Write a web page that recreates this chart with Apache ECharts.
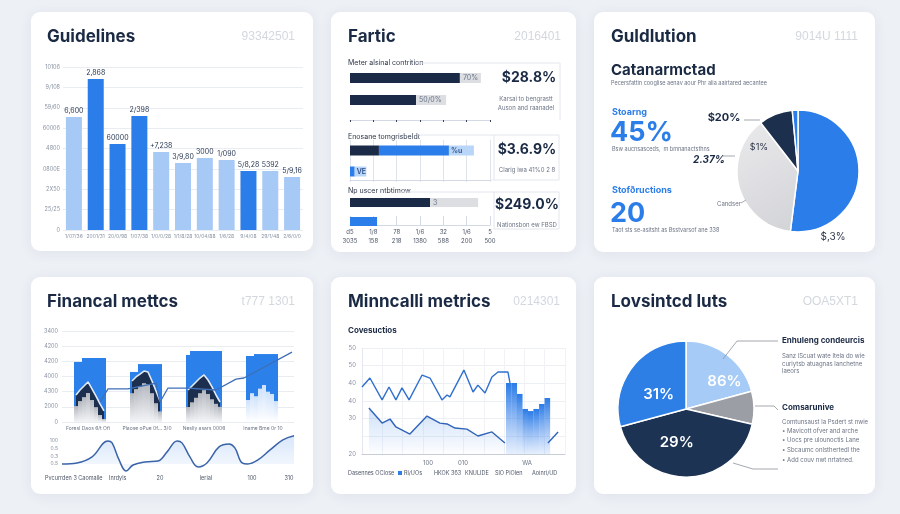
<!DOCTYPE html>
<html><head><meta charset="utf-8">
<script src="https://cdn.jsdelivr.net/npm/echarts@6/dist/echarts.min.js"></script>
<style>html,body{margin:0;padding:0;background:#edf0f5}#c{width:900px;height:514px}</style>
</head><body><div id="c"></div>
<script>
// ---------------- DATA ----------------
// Panel 1: Guidelines
const guideCats = ["1/07/36","2001/31","20/0/98","1/07/38","1/0/0/28","1/1/8/28","10/04/88","1/6/28","9/4/08","29/1/48","2/6/0/0"];
const guideValues = [5550, 7410, 4220, 5600, 3830, 3290, 3530, 3440, 2900, 2900, 2600];
const guideValueLabels = ["6,600","2,868","60000","2/398","+7,238","3/9,80","3000","1/090","5/8,28","5392","5/9,16"];
const guideYTicks = ["0","25/25","2X50","0800E","4800","60006","59/60","9/108","10106"];
const guideDarkIdx = [1, 2, 3, 8];

// Panel 2: Fartic (three sections of horizontal bars)
const farticTickTop = ["d5","1/8","78","1/6","32","1/6","5"];
const farticTickBottom = ["3035","158","218","1380","588","200","500"];
const s1Dark = [47.1, 28.3], s1Grey = [9, 12.9], s1Labels = ["70%", "50/0%"];
const s2Dark = [12.4, '-'], s2Blue = [30, 2], s2Light = [10.7, 5], s2Labels = ["%u", "VE"];
const s3Dark = [34.3, '-'], s3Blue = ['-', 11.6], s3Grey = [20.6, '-'], s3Labels = ["3", ""];

// Panel 3: Guldlution pie
const guldValues = [52, 37.5, 9, 1.5];

// Panel 4: Financal mettcs
const FIN_N = 58;
const finYTicks = ["0","2000","4300","4000","4200","4200","3400"];
const finStarts = [3, 17, 31, 46];
const finBlue = [[3.96,3.96,4.22,4.22,4.22,4.22,4.22,4.22],[3.30,3.30,3.82,3.82,3.82,3.82,3.82,3.82],[4.42,4.68,4.68,4.68,4.68,4.68,4.68,4.68,4.68],[4.35,4.35,4.48,4.48,4.48,4.48,4.48,4.48]];
const finNavy = [[1.78,2.11,2.37,2.64,2.18,1.71,1.19,0.73],[2.70,2.97,3.16,3.36,3.30,2.70,2.04,1.38],[2.11,2.37,2.64,2.90,3.10,2.77,2.31,1.78,1.32],null];
const finGrey = [[1.05,1.38,1.64,1.91,1.45,0.98,0.46,0.2],[1.9,2.17,2.36,2.56,2.5,1.9,1.24,0.7],[0.99,1.3,1.6,1.9,2.1,1.85,1.5,1.2,1.0],null];
const finLight = [null,null,null,[1.45,1.9,1.7,2.2,2.44,2.0,1.85,1.38]];
const finLineIdx = [9, 11, 16, 23, 24, 26, 31, 38, 43, 45, 57];
const finLineVal = [1.32, 2.18, 2.18, 2.57, 1.32, 2.24, 2.24, 2.11, 2.83, 2.90, 4.61];
const finMiniTicks = ["0.5","0.3","0.5","100"];
const finMiniX = [0,6.4,12.9,19.7,21.5,24.5,27.5,30.5,35.6,41.2,45.1,49.4,51.5,54.9,58.4,62.2,67.4,71.7,74.2,77.3,79.8,84.1,89.3,94.8,99.6];
const finMiniY = [0,0.1,0.69,2.25,2.06,0.39,-0.69,-0.1,0.2,0.29,1.18,2.25,2.06,0.69,-0.29,0.1,1.67,1.96,1.57,0.1,0,0.39,1.37,2.35,2.75];

// Panel 5: Minncalli metrics
const p5YTicks = ["20","","30","40","40","50","50"];
const p5UpperX = [0,3.9,9.9,13.3,16.7,19.7,23.2,29.6,33.5,39.4,41.9,43.3,50.2,54.7,57.1,60.6,64.0,67.0,71.9,72.9];
const p5UpperY = [37.9,43.0,30.6,37.9,30.6,37.4,30.6,44.7,43.0,30.6,33.4,32.3,47.5,35.1,39.0,34.5,43.6,46.4,46.4,40.2];
const p5LowerX = [3.4,9.9,13.8,16.7,23.6,32.0,38.4,41.9,45.8,51.7,57.1,64.0,70.4];
const p5LowerY = [26.0,17.5,19.8,15.3,11.3,21.5,17.5,17.0,14.7,14.1,10.2,12.5,6.2];
const p5TailX = [91.6, 96.6], p5TailY = [6.2, 12.5];
const p5BarX = [72.3,75.0,77.7,80.4,83.1,85.8,88.6,91.3];
const p5BarY = [40.2,40.2,34.0,25.5,24.3,25.5,28.3,31.7];

// Panel 6: Lovsintcd luts pie
const lovValues = [20.8, 7.8, 42.2, 29.2];
const lovLabels = ["86%", "", "29%", "31%"];

// ---------------- HELPERS ----------------
const NAVY = '#1b2b47', BLUE = '#2b7de9', LIGHT = '#a6c9f5', TXT = '#1b2a44', SUB = '#6b7384';
const zip = (a, b) => a.map((v, i) => [v, b[i]]);
function spread(groups) {
  const a = new Array(FIN_N).fill('-');
  groups.forEach((g, k) => { if (g) g.forEach((v, j) => { a[finStarts[k] + j] = v; }); });
  return a;
}
function T(x, y, s, size, color, weight, align, extra) {
  const fam = (extra && extra.fam) || 'Inter, Roboto, sans-serif';
  const st = (extra && extra.italic) ? 'italic ' : '';
  return { type: 'text', x: x, y: y, z: 100, silent: true,
    style: { text: s, fill: color, font: st + (weight || 400) + ' ' + size + 'px ' + fam,
      textAlign: align || 'left', textVerticalAlign: 'middle', align: align || 'left', verticalAlign: 'middle' } };
}
function L(points, color, w) {
  return { type: 'polyline', z: 100, silent: true, shape: { points: points }, style: { stroke: color || '#e2e6ed', lineWidth: w || 1, fill: null } };
}
function card(x, y, w, h) {
  return { type: 'rect', z: -10, silent: true, shape: { x: x, y: y, width: w, height: h, r: 9 },
    style: { fill: '#ffffff', shadowBlur: 14, shadowColor: 'rgba(40,60,100,0.07)', shadowOffsetY: 2 } };
}
const faint = (x, y, s) => T(x, y, s, 12, '#d3d8df', 300, 'right', { fam: 'Liberation Sans, sans-serif' });
const small = (x, y, s, align, size) => T(x, y, s, size || 6, SUB, 400, align);
const cap = (x, y, s, align) => T(x, y, s, 5.5, '#4d5566', 400, align);

const grad = (c1, c2) => ({ type: 'linear', x: 0, y: 0, x2: 0, y2: 1, colorStops: [{ offset: 0, color: c1 }, { offset: 1, color: c2 }] });

// ---------------- GRAPHICS (cards + text) ----------------
const graphics = [
  card(31, 12, 282, 239), card(331, 12, 245, 240), card(594, 12, 281, 240),
  card(31, 277, 282, 217), card(331, 277, 245, 217), card(594, 277, 281, 217),
  // titles
  T(47, 37, 'Guidelines', 17, TXT, 700), faint(295, 37, '93342501'),
  T(348, 37, 'Fartic', 17, TXT, 700), faint(561, 37, '2016401'),
  T(611, 37, 'Guldlution', 17, TXT, 700), faint(858, 37, '9014U 1111'),
  T(47, 302, 'Financal mettcs', 17, TXT, 700), faint(295, 302, 't777 1301'),
  T(348, 302, 'Minncalli metrics', 17, TXT, 700), faint(560, 302, '0214301'),
  T(611, 302, 'Lovsintcd luts', 17, TXT, 700), faint(858, 302, 'OOA5XT1'),
  // Panel 2 texts & boxes
  T(348, 63, 'Meter alsinal contrition', 7, '#2d3648'), L([[415, 63], [560, 63]]), L([[560, 63], [560, 120]]),
  T(529, 78, '$28.8%', 14, TXT, 700, 'center'),
  small(526, 99, 'Karsai to bengrastt', 'center'), small(526, 108, 'Auson and raanadel', 'center'),
  T(348, 137, 'Enosane tomgrisbeldt', 7, '#2d3648'), L([[417, 135], [559, 135]]), L([[494, 135], [494, 180]]), L([[559, 135], [559, 180]]), L([[490, 180], [559, 180]]),
  T(527, 150, '$3.6.9%', 14, TXT, 700, 'center'), small(527, 170, 'Clarig iwa 41%0 2 8', 'center'),
  T(348, 191, 'Np uscer ntbtimow', 7, '#2d3648'), L([[400, 192], [559, 192]]), L([[494, 192], [494, 229]]), L([[559, 192], [559, 229]]), L([[494, 229], [559, 229]]),
  T(527, 205, '$249.0%', 14, TXT, 700, 'center'), small(527, 225, 'Nationsbon ew FBSD', 'center'),
  // Panel 3 texts
  T(611, 70, 'Catanarmctad', 15, TXT, 700), small(611, 83, 'Pecersfattin cooglise aenav aour Phr alia aairtared aecantee', 'left', 5.5),
  T(612, 112, 'Stoarng', 9, BLUE, 700), T(610, 133, '45%', 27, BLUE, 700), small(612, 149, 'Bsw aucnsasceds,  m bmnanactsthns', 'left', 5.5),
  T(612, 190, 'Stofðructions', 9, BLUE, 700), T(610, 214, '20', 27, BLUE, 700), small(612, 230, 'Taot sts se-asitsht as Bsstvarsof ane 338', 'left', 5.5),
  T(724, 118, '$20%', 11, TXT, 700, 'center'), L([[744, 120], [760, 120]], '#8d939d', 0.8),
  T(759, 147, '$1%', 9, '#2d3648', 400, 'center'),
  T(709, 160, '2.37%', 10, TXT, 700, 'center', { italic: true }), L([[723, 156], [735, 156]], '#8d939d', 0.8),
  small(729, 204, 'Candser', 'center'), L([[741, 203], [746, 200]], '#8d939d', 0.8),
  T(833, 237, '$,3%', 10, '#2d3648', 400, 'center'),
  // Panel 4 texts
  small(88, 428, 'Foresl Daos 6/t Ofi', 'center', 5), small(147, 428, 'Plaose oPue 0f... 3/0', 'center', 5),
  small(204, 428, 'Neslly asars 0006', 'center', 5), small(263, 428, 'Iname Bme 0r 10', 'center', 5),
  cap(45, 478, 'Pvcurrden 3 Caomalle'), cap(109, 478, 'Inrdyls'),
  cap(160, 478, '20', 'center'), cap(206, 478, 'lerial', 'center'),
  cap(252, 478, '100', 'center'), cap(289, 478, '310', 'center'),
  // Panel 5 texts
  T(348, 331, 'Covesuctios', 8, TXT, 700),
  small(428, 463, '100', 'center'), small(463, 463, '010', 'center'), small(527, 463, 'WA', 'center'),
  cap(348, 473, 'Dasennes OClose'),
  { type: 'rect', z: 100, shape: { x: 398, y: 471, width: 4, height: 4 }, style: { fill: BLUE } },
  cap(404, 473, 'Rl/UOs'), cap(434, 473, 'HKOK 3б3'), cap(465, 473, 'KNULIDE'),
  cap(495, 473, 'SlO PiOlen'), cap(532, 473, 'Aoinri/UD'),
  // Panel 6 texts & leader lines
  L([[723, 359], [737, 341], [778, 341]], '#8d939d', 0.8),
  L([[755, 406], [774, 406], [778, 410]], '#8d939d', 0.8),
  L([[733, 463], [753, 469], [778, 469]], '#8d939d', 0.8),
  T(782, 341, 'Enhuleng condeurcis', 8, TXT, 700),
  small(782, 356, 'Sanz lScuat wate ltela do wie'), small(782, 364, 'curiytsb atuagnas lanchetne'), small(782, 371, 'laeors'),
  T(782, 408, 'Comsarunive', 8, TXT, 700),
  small(782, 422, 'Comtunsaust la Psdert st nwie'), small(782, 431, '• Mavicott ofver and arche'),
  small(782, 440, '• Uocs pre ulounoctis Lane'), small(782, 450, '• Sbcaumc onlsthertedl the'), small(782, 460, '• Add couv nwt nrtatned.')
];

// ---------------- AXES ----------------
const hid = { show: false };
const tickLbl = (extra) => Object.assign({ fontSize: 6, color: '#8a93a3', fontFamily: 'Inter, sans-serif' }, extra || {});
const fartX = (gi, offset, extra) => Object.assign({
  type: 'value', gridIndex: gi, min: 0, max: 60, interval: 10, offset: offset,
  axisLine: { show: true, lineStyle: { color: '#d3dae5' } }, axisTick: hid, axisLabel: hid, splitLine: hid
}, extra || {});
const fartY = (gi) => ({ type: 'category', gridIndex: gi, data: ['a', 'b'], inverse: true, show: false });

const option = {
  backgroundColor: '#edf0f5',
  animation: false,
  textStyle: { fontFamily: 'Inter, Roboto, sans-serif' },
  graphic: graphics,
  grid: [
    { left: 63, top: 67, width: 240, height: 163 },
    { left: 350, top: 67, width: 140, height: 44 },
    { left: 350, top: 140, width: 140, height: 42 },
    { left: 350, top: 193, width: 140, height: 38 },
    { left: 62, top: 331, width: 232, height: 91 },
    { left: 62, top: 433.3, width: 233, height: 38.3 },
    { left: 362, top: 348, width: 203, height: 106 }
  ],
  xAxis: [
    { type: 'category', gridIndex: 0, data: guideCats, axisLine: hid, axisTick: hid,
      axisLabel: tickLbl({ interval: 0, margin: 4, fontSize: 5 }) },
    fartX(1, 9, { axisTick: { show: true, length: 2, lineStyle: { color: '#3a4356' } } }),
    fartX(2, -2, { splitLine: { show: true, lineStyle: { color: '#dfe4eb' } } }),
    fartX(3, -6, { axisTick: { show: true, inside: true, length: 9, lineStyle: { color: '#d3dae5' } },
      axisLabel: { show: true, fontSize: 6, lineHeight: 9, color: '#4d5566', margin: 3,
        formatter: (v) => { const i = Math.round(v / 10); return farticTickTop[i] + '\n' + farticTickBottom[i]; } } }),
    { type: 'category', gridIndex: 4, data: new Array(FIN_N).fill(''), show: false },
    { type: 'value', gridIndex: 5, min: 0, max: 100, show: false },
    { type: 'value', gridIndex: 6, min: 0, max: 100, interval: 10, axisLabel: hid, axisTick: hid,
      axisLine: { show: true, lineStyle: { color: '#c8ced8' } },
      splitLine: { show: true, lineStyle: { color: '#f0f2f6' } } }
  ],
  yAxis: [
    { type: 'value', gridIndex: 0, min: 0, max: 8000, interval: 1000, axisLine: hid, axisTick: hid,
      axisLabel: tickLbl({ margin: 3, fontSize: 5.5, formatter: (v) => guideYTicks[Math.round(v / 1000)] }),
      splitLine: { lineStyle: { color: '#e9ecf1' } } },
    fartY(1), fartY(2), fartY(3),
    { type: 'value', gridIndex: 4, min: 0, max: 6, interval: 1, axisLine: hid, axisTick: hid,
      axisLabel: tickLbl({ margin: 4, fontSize: 5.5, formatter: (v) => finYTicks[Math.round(v)] }),
      splitLine: { lineStyle: { color: '#e9ecf1' } } },
    { type: 'value', gridIndex: 5, min: -0.75, max: 3, interval: 0.75, axisLine: hid, axisTick: hid,
      axisLabel: tickLbl({ margin: 4, fontSize: 5, formatter: (v) => { const i = Math.round(v / 0.75); return (i >= 0 && i < 4) ? finMiniTicks[i] : ''; } }),
      splitLine: hid },
    { type: 'value', gridIndex: 6, min: 0, max: 60, interval: 10, axisTick: hid,
      axisLine: { show: true, lineStyle: { color: '#e3e7ee' } },
      axisLabel: tickLbl({ margin: 6, formatter: (v) => p5YTicks[Math.round(v / 10)] }),
      splitLine: { lineStyle: { color: '#eceff4' } } }
  ],
  series: [
    // Panel 1
    { type: 'bar', xAxisIndex: 0, yAxisIndex: 0, barWidth: 16,
      data: guideValues.map((v, i) => ({ value: v, itemStyle: { color: guideDarkIdx.includes(i) ? BLUE : LIGHT } })),
      label: { show: true, position: 'top', distance: 3, fontSize: 7, color: '#2b3a55',
        formatter: (p) => guideValueLabels[p.dataIndex] } },
    // Panel 2 section 1
    { type: 'bar', xAxisIndex: 1, yAxisIndex: 1, stack: 's1', barWidth: 10, data: s1Dark, itemStyle: { color: NAVY } },
    { type: 'bar', xAxisIndex: 1, yAxisIndex: 1, stack: 's1', barWidth: 10, data: s1Grey, itemStyle: { color: '#dcdee2' },
      label: { show: true, position: 'insideLeft', distance: 3, fontSize: 7, color: '#6b7588', formatter: (p) => s1Labels[p.dataIndex] } },
    // Panel 2 section 2
    { type: 'bar', xAxisIndex: 2, yAxisIndex: 2, stack: 's2', barWidth: 10, data: s2Dark, itemStyle: { color: NAVY } },
    { type: 'bar', xAxisIndex: 2, yAxisIndex: 2, stack: 's2', barWidth: 10, data: s2Blue, itemStyle: { color: BLUE } },
    { type: 'bar', xAxisIndex: 2, yAxisIndex: 2, stack: 's2', barWidth: 10, data: s2Light, itemStyle: { color: '#b9d5f8' },
      label: { show: true, position: 'insideLeft', distance: 2, fontSize: 7, fontWeight: 600, color: '#2c4f8a', formatter: (p) => s2Labels[p.dataIndex] } },
    // Panel 2 section 3
    { type: 'bar', xAxisIndex: 3, yAxisIndex: 3, stack: 's3', barWidth: 9, data: s3Dark, itemStyle: { color: NAVY } },
    { type: 'bar', xAxisIndex: 3, yAxisIndex: 3, stack: 's3', barWidth: 9, data: s3Blue, itemStyle: { color: BLUE } },
    { type: 'bar', xAxisIndex: 3, yAxisIndex: 3, stack: 's3', barWidth: 9, data: s3Grey, itemStyle: { color: '#dcdee2' },
      label: { show: true, position: 'insideLeft', distance: 3, fontSize: 7, color: '#6b7588', formatter: (p) => s3Labels[p.dataIndex] } },
    // Panel 3 pie
    { type: 'pie', center: [798, 171], radius: 61, startAngle: 90, clockwise: true, silent: true,
      label: hid, labelLine: hid,
      itemStyle: { borderColor: '#fff', borderWidth: 1.5 },
      data: guldValues.map((v, i) => ({ value: v, itemStyle: { color: [BLUE, { type: 'linear', x: 0, y: 0, x2: 1, y2: 1, colorStops: [{ offset: 0, color: '#eaeaec' }, { offset: 1, color: '#d2d3d7' }] }, '#1c2f4d', BLUE][i] } })) },
    // Panel 4 main
    { type: 'bar', xAxisIndex: 4, yAxisIndex: 4, barWidth: 4, barGap: '-100%', z: 2, data: spread(finBlue), itemStyle: { color: '#2b80ea' } },
    { type: 'line', xAxisIndex: 4, yAxisIndex: 4, z: 3, data: spread(finNavy), showSymbol: false,
      lineStyle: { color: 'rgba(235,242,252,0.95)', width: 1.6 }, areaStyle: { color: '#1c2f4e', opacity: 1 } },
    { type: 'bar', xAxisIndex: 4, yAxisIndex: 4, barWidth: 4, barGap: '-100%', z: 4, data: spread(finGrey),
      itemStyle: { color: grad('#b4b8bf', '#f3f4f6') } },
    { type: 'bar', xAxisIndex: 4, yAxisIndex: 4, barWidth: 4, barGap: '-100%', z: 4, data: spread(finLight),
      itemStyle: { color: grad('#cfe2fb', '#ffffff') } },
    { type: 'line', xAxisIndex: 4, yAxisIndex: 4, z: 5, connectNulls: true, showSymbol: false,
      data: (() => { const a = new Array(FIN_N).fill('-'); finLineIdx.forEach((k, j) => { a[k] = finLineVal[j]; }); return a; })(),
      lineStyle: { color: '#3f6fb6', width: 1.3 } },
    // Panel 4 mini
    { type: 'line', xAxisIndex: 5, yAxisIndex: 5, smooth: 0.4, showSymbol: false, data: zip(finMiniX, finMiniY),
      lineStyle: { color: '#3a63a8', width: 1.5 },
      areaStyle: { color: grad('rgba(70,140,235,0.30)', 'rgba(70,140,235,0.06)') } },
    // Panel 5
    { type: 'bar', xAxisIndex: 6, yAxisIndex: 6, barWidth: 5.6, z: 2, data: zip(p5BarX, p5BarY),
      itemStyle: { color: grad('#2a7be6', 'rgba(90,150,240,0.15)') } },
    { type: 'line', xAxisIndex: 6, yAxisIndex: 6, z: 3, showSymbol: false, data: zip(p5LowerX, p5LowerY),
      lineStyle: { color: '#2f64b8', width: 1.4 },
      areaStyle: { color: grad('rgba(60,130,230,0.35)', 'rgba(60,130,230,0.02)') } },
    { type: 'line', xAxisIndex: 6, yAxisIndex: 6, z: 3, showSymbol: false, data: zip(p5TailX, p5TailY),
      lineStyle: { color: '#2f64b8', width: 1.4 } },
    { type: 'line', xAxisIndex: 6, yAxisIndex: 6, z: 4, showSymbol: false, data: zip(p5UpperX, p5UpperY),
      lineStyle: { color: '#2f6fd0', width: 1.4 } },
    // Panel 6 pie
    { type: 'pie', center: [686, 409], radius: 68, startAngle: 90, clockwise: true, silent: true,
      itemStyle: { borderColor: '#fff', borderWidth: 1.5 },
      label: { show: true, position: 'inside', color: '#fff', fontSize: 15, fontWeight: 600,
        formatter: (p) => lovLabels[p.dataIndex] },
      labelLayout: (p) => (p.dataIndex === 0 ? { dx: 16, dy: 2 } : (p.dataIndex === 3 ? { dx: 2, dy: 8 } : { dx: -10, dy: -4 })),
      data: lovValues.map((v, i) => ({ value: v, itemStyle: { color: ['#a6cbf7', '#9c9ea5', '#1c3354', '#2d7fe6'][i] } })) }
  ]
};
const chart = echarts.init(document.getElementById('c'), null, { renderer: 'canvas' });
chart.setOption(option);
</script></body></html>
